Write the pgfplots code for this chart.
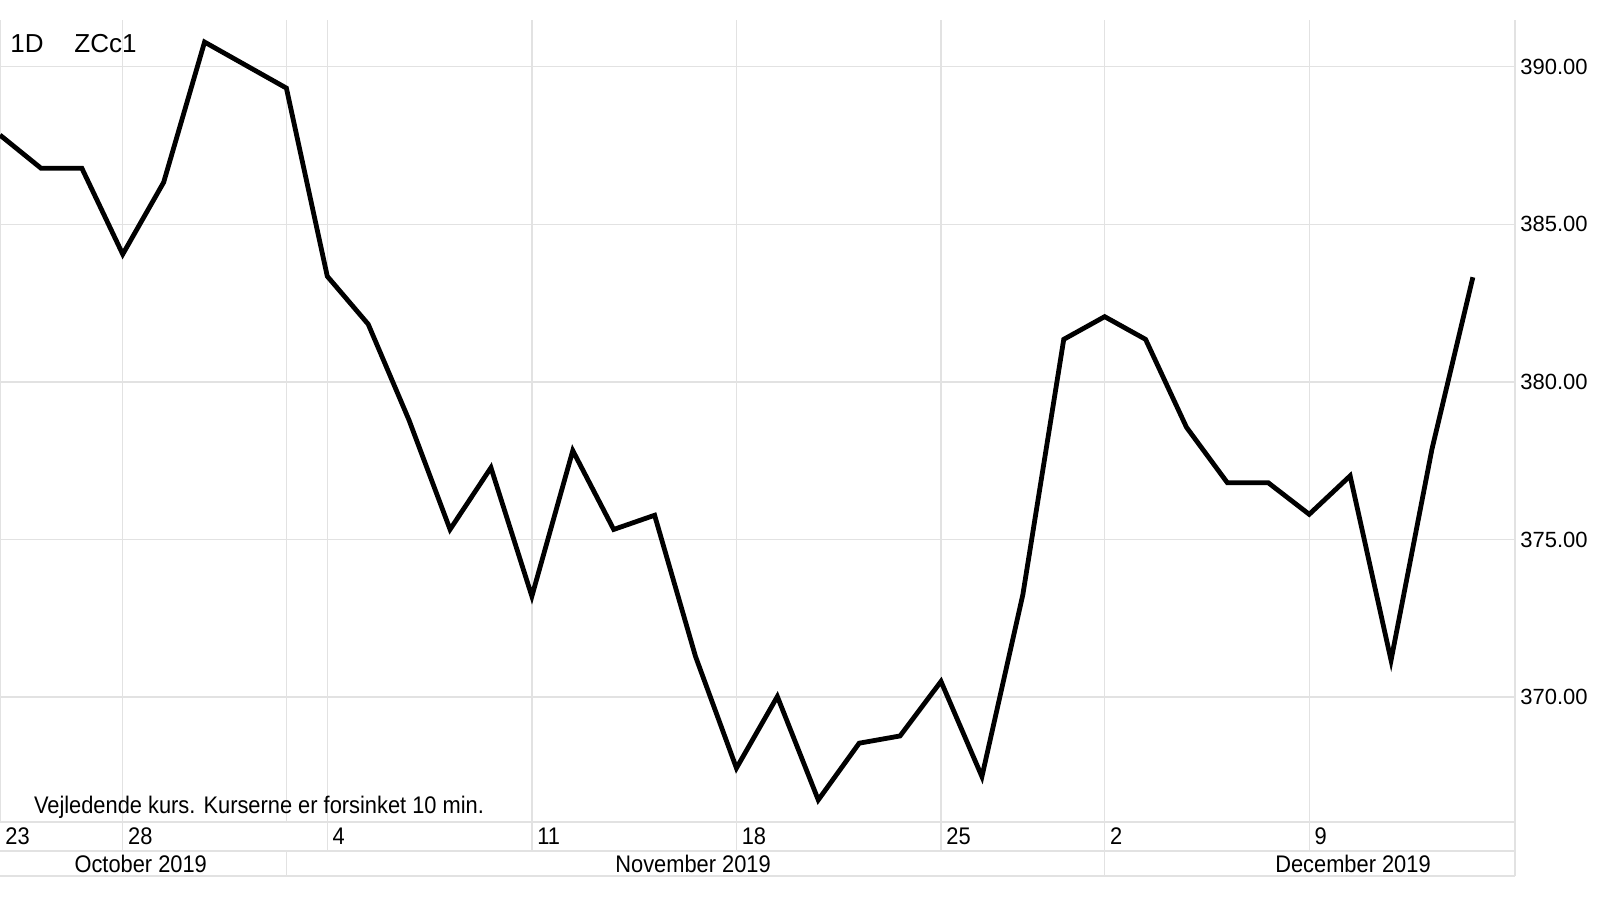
\documentclass[border=0pt]{standalone}
\usepackage{fontspec}
\setmainfont{Liberation Sans}
\newfontfamily\narrowfont[FakeStretch=0.91]{Liberation Sans}
\usepackage{pgfplots}
\usepackage{pgfplotstable}
\pgfplotsset{compat=1.18}
\definecolor{gridgray}{HTML}{E2E2E2}

% trading days from 23 Oct 2019 (index 0) to 13 Dec 2019 (index 36)
\pgfplotstableread{
i price
0 387.83
1 386.78
2 386.78
3 384.05
4 386.33
5 390.78
6 390.05
7 389.32
8 383.35
9 381.83
10 378.78
11 375.32
12 377.28
13 373.20
14 377.82
15 375.32
16 375.77
17 371.29
18 367.75
19 370.02
20 366.74
21 368.54
22 368.77
23 370.50
24 367.48
25 373.25
26 381.35
27 382.07
28 381.35
29 378.56
30 376.80
31 376.80
32 375.80
33 377.02
34 371.17
35 377.87
36 383.32
}\corn

\begin{document}
\begin{tikzpicture}
\useasboundingbox (0,-39pt) rectangle (799pt,411pt);
\begin{axis}[
  at={(0,0)}, anchor=south west,
  scale only axis, width=757.5pt, height=401pt,
  xmin=0, xmax=37.03, ymin=366.04, ymax=391.48,
  axis line style={draw=none},
  clip=false,
  major tick length=0pt,
  xtick={0,3,8,13,18,23,27,32},
  xticklabels={23,28,4,11,18,25,2,9},
  extra x ticks={7}, extra x tick labels={},
  extra x tick style={grid=major},
  xmajorgrids, ymajorgrids,
  grid style={gridgray, line width=0.7pt},
  xticklabel style={font=\narrowfont\fontsize{12}{12}\selectfont, anchor=west, inner sep=0pt, xshift=2.5pt, yshift=-7.3pt},
  ytick={370,375,380,385,390},
  yticklabels={370.00,375.00,380.00,385.00,390.00},
  yticklabel pos=right,
  yticklabel style={font=\fontsize{11}{11}\selectfont, anchor=west, inner sep=0pt, xshift=2.5pt},
]
\addplot[black, line width=2.4pt, line join=miter] table[x=i, y=price] {\corn};

% frame of the date rows
\draw[gridgray, line width=0.7pt] (rel axis cs:0,0) -- (rel axis cs:1,0);
\draw[gridgray, line width=0.7pt] ([yshift=-14.5pt]rel axis cs:0,0) -- ([yshift=-14.5pt]rel axis cs:1,0);
\draw[gridgray, line width=0.7pt] ([yshift=-27pt]rel axis cs:0,0) -- ([yshift=-27pt]rel axis cs:1,0);
\draw[gridgray, line width=0.7pt] (rel axis cs:1,1) -- ([yshift=-27pt]rel axis cs:1,0);
\pgfplotsinvokeforeach{3,8,13,18,23,27,32}{
  \draw[gridgray, line width=0.7pt] (axis cs:#1,366.04) -- ([yshift=-14.5pt]axis cs:#1,366.04);
}
\pgfplotsinvokeforeach{7,27}{
  \draw[gridgray, line width=0.7pt] ([yshift=-14.5pt]axis cs:#1,366.04) -- ([yshift=-27pt]axis cs:#1,366.04);
}

% month labels
\node[font=\narrowfont\fontsize{12}{12}\selectfont, inner sep=0pt] at ([yshift=-20.75pt]axis cs:3.44,366.04) {October 2019};
\node[font=\narrowfont\fontsize{12}{12}\selectfont, inner sep=0pt] at ([yshift=-20.75pt]axis cs:16.94,366.04) {November 2019};
\node[font=\narrowfont\fontsize{12}{12}\selectfont, inner sep=0pt] at ([yshift=-20.75pt]axis cs:33.07,366.04) {December 2019};

% texts inside the plot
\node[font=\fontsize{13}{13}\selectfont, anchor=west, inner sep=0pt] at ([xshift=5pt, yshift=-12pt]rel axis cs:0,1) {1D};
\node[font=\fontsize{13}{13}\selectfont, anchor=west, inner sep=0pt] at ([xshift=37pt, yshift=-12pt]rel axis cs:0,1) {ZCc1};
\node[font=\narrowfont\fontsize{12}{12}\selectfont, anchor=west, inner sep=0pt] at ([xshift=16.8pt, yshift=7.5pt]rel axis cs:0,0) {Vejledende kurs. Kurserne er forsinket 10 min.};
\end{axis}
\end{tikzpicture}
\end{document}
